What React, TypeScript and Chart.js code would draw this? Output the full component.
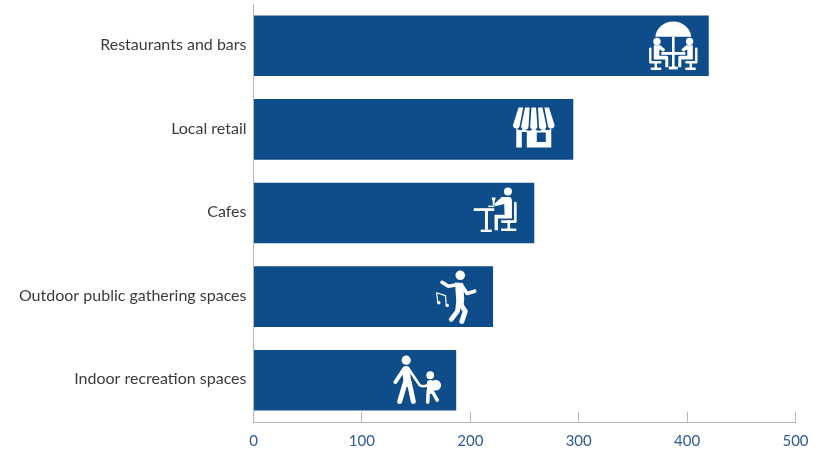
import React, { useEffect, useRef } from "react";
import { Chart, registerables } from "chart.js";

Chart.register(...registerables);

const categories = [
  "Restaurants and bars",
  "Local retail",
  "Cafes",
  "Outdoor public gathering spaces",
  "Indoor recreation spaces",
];
const counts = [420, 295, 259, 221, 187];
const tickValues = [0, 100, 200, 300, 400, 500];

const BAR = "#0f4c8a";
const AXIS = "#b5b6ba";
const LABEL = "#3b3b3d";
const TICK = "#2f5a94";
const FONT = "Lato, 'Open Sans', sans-serif";

type Glyph = { fill?: string[]; rule?: [number, string][]; dots?: [number, number, number][] };

// Pictograms are described around their own centre, in canvas pixels.
const patio: Glyph = {
  fill: [
    "M-18 -9 C-17 -18 -9 -24.2 0 -24.2 C9 -24.2 17 -18 18 -9 Z",
    "M-1.3 -9 H1.3 V22.5 H-1.3 Z",
    "M-12 6.2 H12 V9 H-12 Z",
    "M-4.5 20.8 H4.5 V23.6 H-4.5 Z",
    "M-19.5 -0.5 H-13 L-8 3.8 L-9.8 6 L-14 3.8 V10 H-6.8 Q-5 10 -5 12 V21.5 H-8 V13.8 H-19.5 Z",
    "M19.5 -0.5 H13 L8 3.8 L9.8 6 L14 3.8 V10 H6.8 Q5 10 5 12 V21.5 H8 V13.8 H19.5 Z",
  ],
  rule: [
    [2.4, "M-23 3 V16.5 H-13"],
    [2.4, "M-17.5 16.5 V22.5 M-21.5 23 H-13"],
    [2.4, "M23 3 V16.5 H13"],
    [2.4, "M17.5 16.5 V22.5 M21.5 23 H13"],
  ],
  dots: [[-16.3, -4.4, 3.7], [16.3, -4.4, 3.7]],
};

const shopfront: Glyph = {
  fill: [
    "M-15.2 -21.8 H-10.6 L-14 -4.5 A3.4 3.4 0 0 1 -20.8 -4.5 Z",
    "M-8.7 -21.8 H-4.2 L-5.2 -3.5 A3.7 3.7 0 0 1 -12.6 -3.5 Z",
    "M-2.3 -21.8 H2.3 L3.6 -3.5 A3.6 3.6 0 0 1 -3.6 -3.5 Z",
    "M4.2 -21.8 H8.7 L12.6 -3.5 A3.7 3.7 0 0 1 5.2 -3.5 Z",
    "M10.6 -21.8 H15.2 L20.8 -4.5 A3.4 3.4 0 0 1 14 -4.5 Z",
    "M-17.5 -2 Q-14 3 -10 -1 Q-5 3.5 0 -1 Q5 3.5 10 -1 Q14 3 17.5 -2 V18 H-7 V2.5 H-12 V18 H-17.5 Z M3 3 V12.5 H12 V3 Z",
  ],
};

const cafe: Glyph = {
  fill: [
    "M-22 -4.8 H-1.5 V-2 H-22 Z",
    "M-10.8 -2 H-7.8 V16.7 H-10.8 Z",
    "M-15 16.6 H-4 V19 H-15 Z",
    "M6.2 -16 H14.4 Q16.2 -15 16.2 -12 L16.2 5.5 H2.2 V17.3 H-1.2 V1.7 H8.8 L8.5 -9 L-1 -6.8 V-9.4 L6 -16 Z",
    "M-4.2 -15.5 H0 L-1.2 -11 V-7.8 H-3 V-11 Z",
    "M-7.5 -7.4 H-1.5 V-5.9 H-7.5 Z",
  ],
  rule: [
    [2.6, "M19.6 -10 V8.6 H6.5"],
    [2.6, "M13 8.6 V16"],
    [2.6, "M6.5 16.8 H19.5"],
  ],
  dots: [[12.2, -21.6, 4]],
};

const dancer: Glyph = {
  fill: [
    "M0 -14 L8 -13.5 L9.2 2 L8.5 9 L1.4 9 Z",
  ],
  rule: [
    [3.6, "M3.3 -12 L-6.7 -10.3 L-13 -14.3"],
    [3.6, "M6.7 -11 L12 -3.2 L19.6 -5.4"],
    [4.8, "M3.3 7 L2.5 14.5 L-3.8 22.8"],
    [5, "M5.2 7 L10.2 14.7 L6.8 24.8"],
    [1.2, "M-17.2 6 L-18.4 -3.8 L-9.6 -1 L-8.8 8.5"],
  ],
  dots: [[5.2, -21.3, 4.8], [-16.2, 6.2, 1.7], [-7.8, 8.8, 1.7]],
};

const outing: Glyph = {
  rule: [
    [7.6, "M-11.2 -10.5 L-9.8 3"],
    [4, "M-13.5 -10.5 L-21.8 1.8"],
    [2.6, "M-8.7 -11.5 L2.5 5 Q7 7.5 12 4"],
    [5, "M-11.8 2 L-17.5 21.2"],
    [5, "M-8 2 L-3.9 21.2"],
    [6.6, "M13 3 L13 10.5"],
    [3.5, "M11 11 L10.5 22"],
    [3.5, "M15 11 L20 20"],
  ],
  dots: [[-11, -20, 4.6], [13, -5, 3.9], [18.5, 5, 5.4]],
};

const pictograms = [patio, shopfront, cafe, dancer, outing];
const insetFromBarEnd = [35.5, 39.5, 38.5, 38, 39];

const drawGlyph = (ctx: CanvasRenderingContext2D, g: Glyph) => {
  ctx.fillStyle = "#ffffff";
  ctx.strokeStyle = "#ffffff";
  ctx.lineCap = "round";
  ctx.lineJoin = "round";
  (g.fill || []).forEach((d) => ctx.fill(new Path2D(d), "evenodd"));
  (g.rule || []).forEach(([w, d]) => {
    ctx.lineWidth = w;
    ctx.stroke(new Path2D(d));
  });
  (g.dots || []).forEach(([x, y, r]) => {
    ctx.beginPath();
    ctx.arc(x, y, r, 0, Math.PI * 2);
    ctx.fill();
  });
};

const pictogramPlugin = {
  id: "barPictograms",
  afterDatasetsDraw(chart: Chart) {
    const { ctx } = chart;
    chart.getDatasetMeta(0).data.forEach((bar: any, i: number) => {
      ctx.save();
      ctx.translate(bar.x - insetFromBarEnd[i], bar.y);
      drawGlyph(ctx, pictograms[i]);
      ctx.restore();
    });
  },
};

export default function App() {
  const ref = useRef<HTMLCanvasElement | null>(null);

  useEffect(() => {
    if (!ref.current) return;
    const chart = new Chart(ref.current, {
      type: "bar",
      data: {
        labels: categories,
        datasets: [
          {
            data: counts,
            backgroundColor: BAR,
            borderWidth: 0,
            categoryPercentage: 1,
            barPercentage: 0.725,
          },
        ],
      },
      options: {
        indexAxis: "y",
        responsive: false,
        animation: false,
        layout: { autoPadding: false, padding: { top: 4, right: 31.5, left: 0, bottom: 0 } },
        plugins: { legend: { display: false }, tooltip: { enabled: false } },
        scales: {
          x: {
            min: 0,
            max: 500,
            afterBuildTicks: (scale: any) => {
              scale.ticks = tickValues.map((value) => ({ value }));
            },
            afterFit: (scale: any) => {
              scale.height = 27;
              scale.paddingLeft = 0;
              scale.paddingRight = 0;
            },
            grid: {
              drawOnChartArea: false,
              drawTicks: true,
              tickLength: -10,
              color: AXIS,
              lineWidth: 1,
            },
            border: { color: AXIS, width: 1 },
            ticks: {
              color: TICK,
              padding: 20,
              maxRotation: 0,
              autoSkip: false,
              font: { family: FONT, size: 15 },
            },
          },
          y: {
            afterFit: (scale: any) => {
              scale.width = 253.5;
              scale.paddingTop = 0;
              scale.paddingBottom = 0;
            },
            grid: { display: true, drawOnChartArea: false, drawTicks: false },
            border: { color: AXIS, width: 1 },
            ticks: {
              color: LABEL,
              padding: 7,
              labelOffset: -1,
              autoSkip: false,
              font: { family: FONT, size: 16 },
            },
          },
        },
      },
      plugins: [pictogramPlugin],
    } as any);
    return () => chart.destroy();
  }, []);

  return (
    <div style={{ position: "absolute", left: 0, top: 0, width: 827, height: 449, background: "#fff" }}>
      <canvas ref={ref} width={827} height={449} style={{ display: "block" }} />
    </div>
  );
}
